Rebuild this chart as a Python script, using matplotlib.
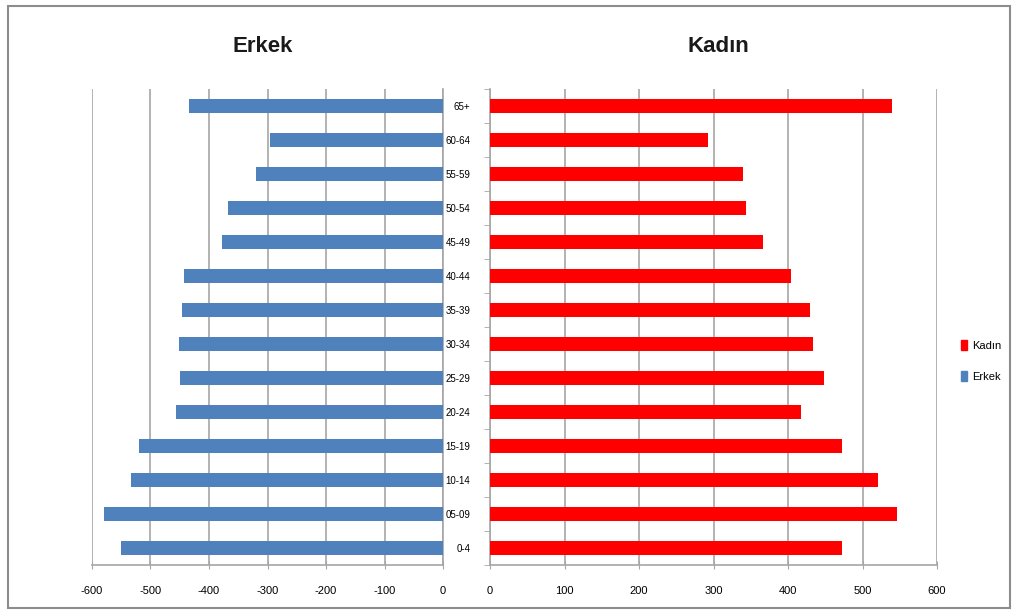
import matplotlib
matplotlib.use('Agg')
from matplotlib import pyplot as plt
from matplotlib.patches import Rectangle, Patch

# yas gruplari (asagidan yukariya)
yas_gruplari = ['0-4', '05-09', '10-14', '15-19', '20-24', '25-29', '30-34',
                '35-39', '40-44', '45-49', '50-54', '55-59', '60-64', '65+']
erkek = [-551, -580, -534, -520, -456, -450, -451,
         -446, -443, -377, -368, -320, -296, -435]
kadin = [473, 546, 521, 473, 418, 448, 433,
         430, 404, 367, 344, 340, 293, 540]
sol_ticks = [-600, -500, -400, -300, -200, -100, 0]
sag_ticks = [0, 100, 200, 300, 400, 500, 600]

mavi = '#4F81BD'
kirmizi = '#FF0000'
grid_renk = '#A6A6A6'

plt.rcParams['font.family'] = ['Liberation Sans', 'DejaVu Sans']

fig = plt.figure(figsize=(10.15, 6.14), dpi=100)
W, H = 1015, 614

def kutu(x0, x1, y0, y1):
    return [x0 / W, 1 - y1 / H, (x1 - x0) / W, (y1 - y0) / H]

ax1 = fig.add_axes(kutu(92, 443, 89, 565))
ax2 = fig.add_axes(kutu(490, 937, 89, 565))

y = list(range(len(yas_gruplari)))

ax1.barh(y, erkek, height=0.4, color=mavi, zorder=3)
ax2.barh(y, kadin, height=0.4, color=kirmizi, zorder=3)

for ax, ticks in ((ax1, sol_ticks), (ax2, sag_ticks)):
    ax.set_xlim(ticks[0], ticks[-1])
    ax.set_ylim(-0.5, len(yas_gruplari) - 0.5)
    ax.set_xticks(ticks)
    ax.set_xticklabels([str(t) for t in ticks], fontsize=8, color='black')
    ax.tick_params(axis='x', direction='inout', length=6, color=grid_renk, pad=12)
    ax.grid(axis='x', color=grid_renk, linewidth=1.2, zorder=0)
    ax.set_axisbelow(True)
    for s in ('top', 'left', 'right'):
        ax.spines[s].set_visible(False)
    ax.spines['bottom'].set_color(grid_renk)
    ax.spines['bottom'].set_linewidth(1.2)

# sol grafik: dikey eksen 0 uzerinde
ax1.spines['right'].set_visible(True)
ax1.spines['right'].set_color(grid_renk)
ax1.spines['right'].set_linewidth(1.2)
ax1.set_yticks([])

# sag grafik: yas etiketleri
ax2.spines['left'].set_visible(True)
ax2.spines['left'].set_color(grid_renk)
ax2.spines['left'].set_linewidth(1.2)
ax2.set_yticks(y)
ax2.set_yticklabels(yas_gruplari, fontsize=7, color='black')
ax2.tick_params(axis='y', length=0, pad=14)
ax2.set_yticks([i - 0.5 for i in range(len(yas_gruplari) + 1)], minor=True)
ax2.tick_params(axis='y', which='minor', length=4, color=grid_renk, direction='out')

fig.text(263 / W, 1 - 46 / H, 'Erkek', fontsize=16, fontweight='bold',
         ha='center', va='center', color='#1a1a1a')
fig.text(718 / W, 1 - 46 / H, 'Kadın', fontsize=16, fontweight='bold',
         ha='center', va='center', color='#1a1a1a')

fig.legend(handles=[Patch(color=kirmizi, label='Kadın'),
                    Patch(color=mavi, label='Erkek')],
           loc='center', bbox_to_anchor=(981 / W, 1 - 361 / H),
           frameon=False, fontsize=8, handlelength=0.6, handleheight=1.0,
           handletextpad=0.4, labelspacing=1.8)

fig.patches.append(Rectangle((8 / W, 6 / H), 1002 / W, 602 / H,
                             transform=fig.transFigure, fill=False,
                             edgecolor='#8C8C8C', linewidth=1.5))

plt.savefig('out.png', dpi=100)
plt.close()
